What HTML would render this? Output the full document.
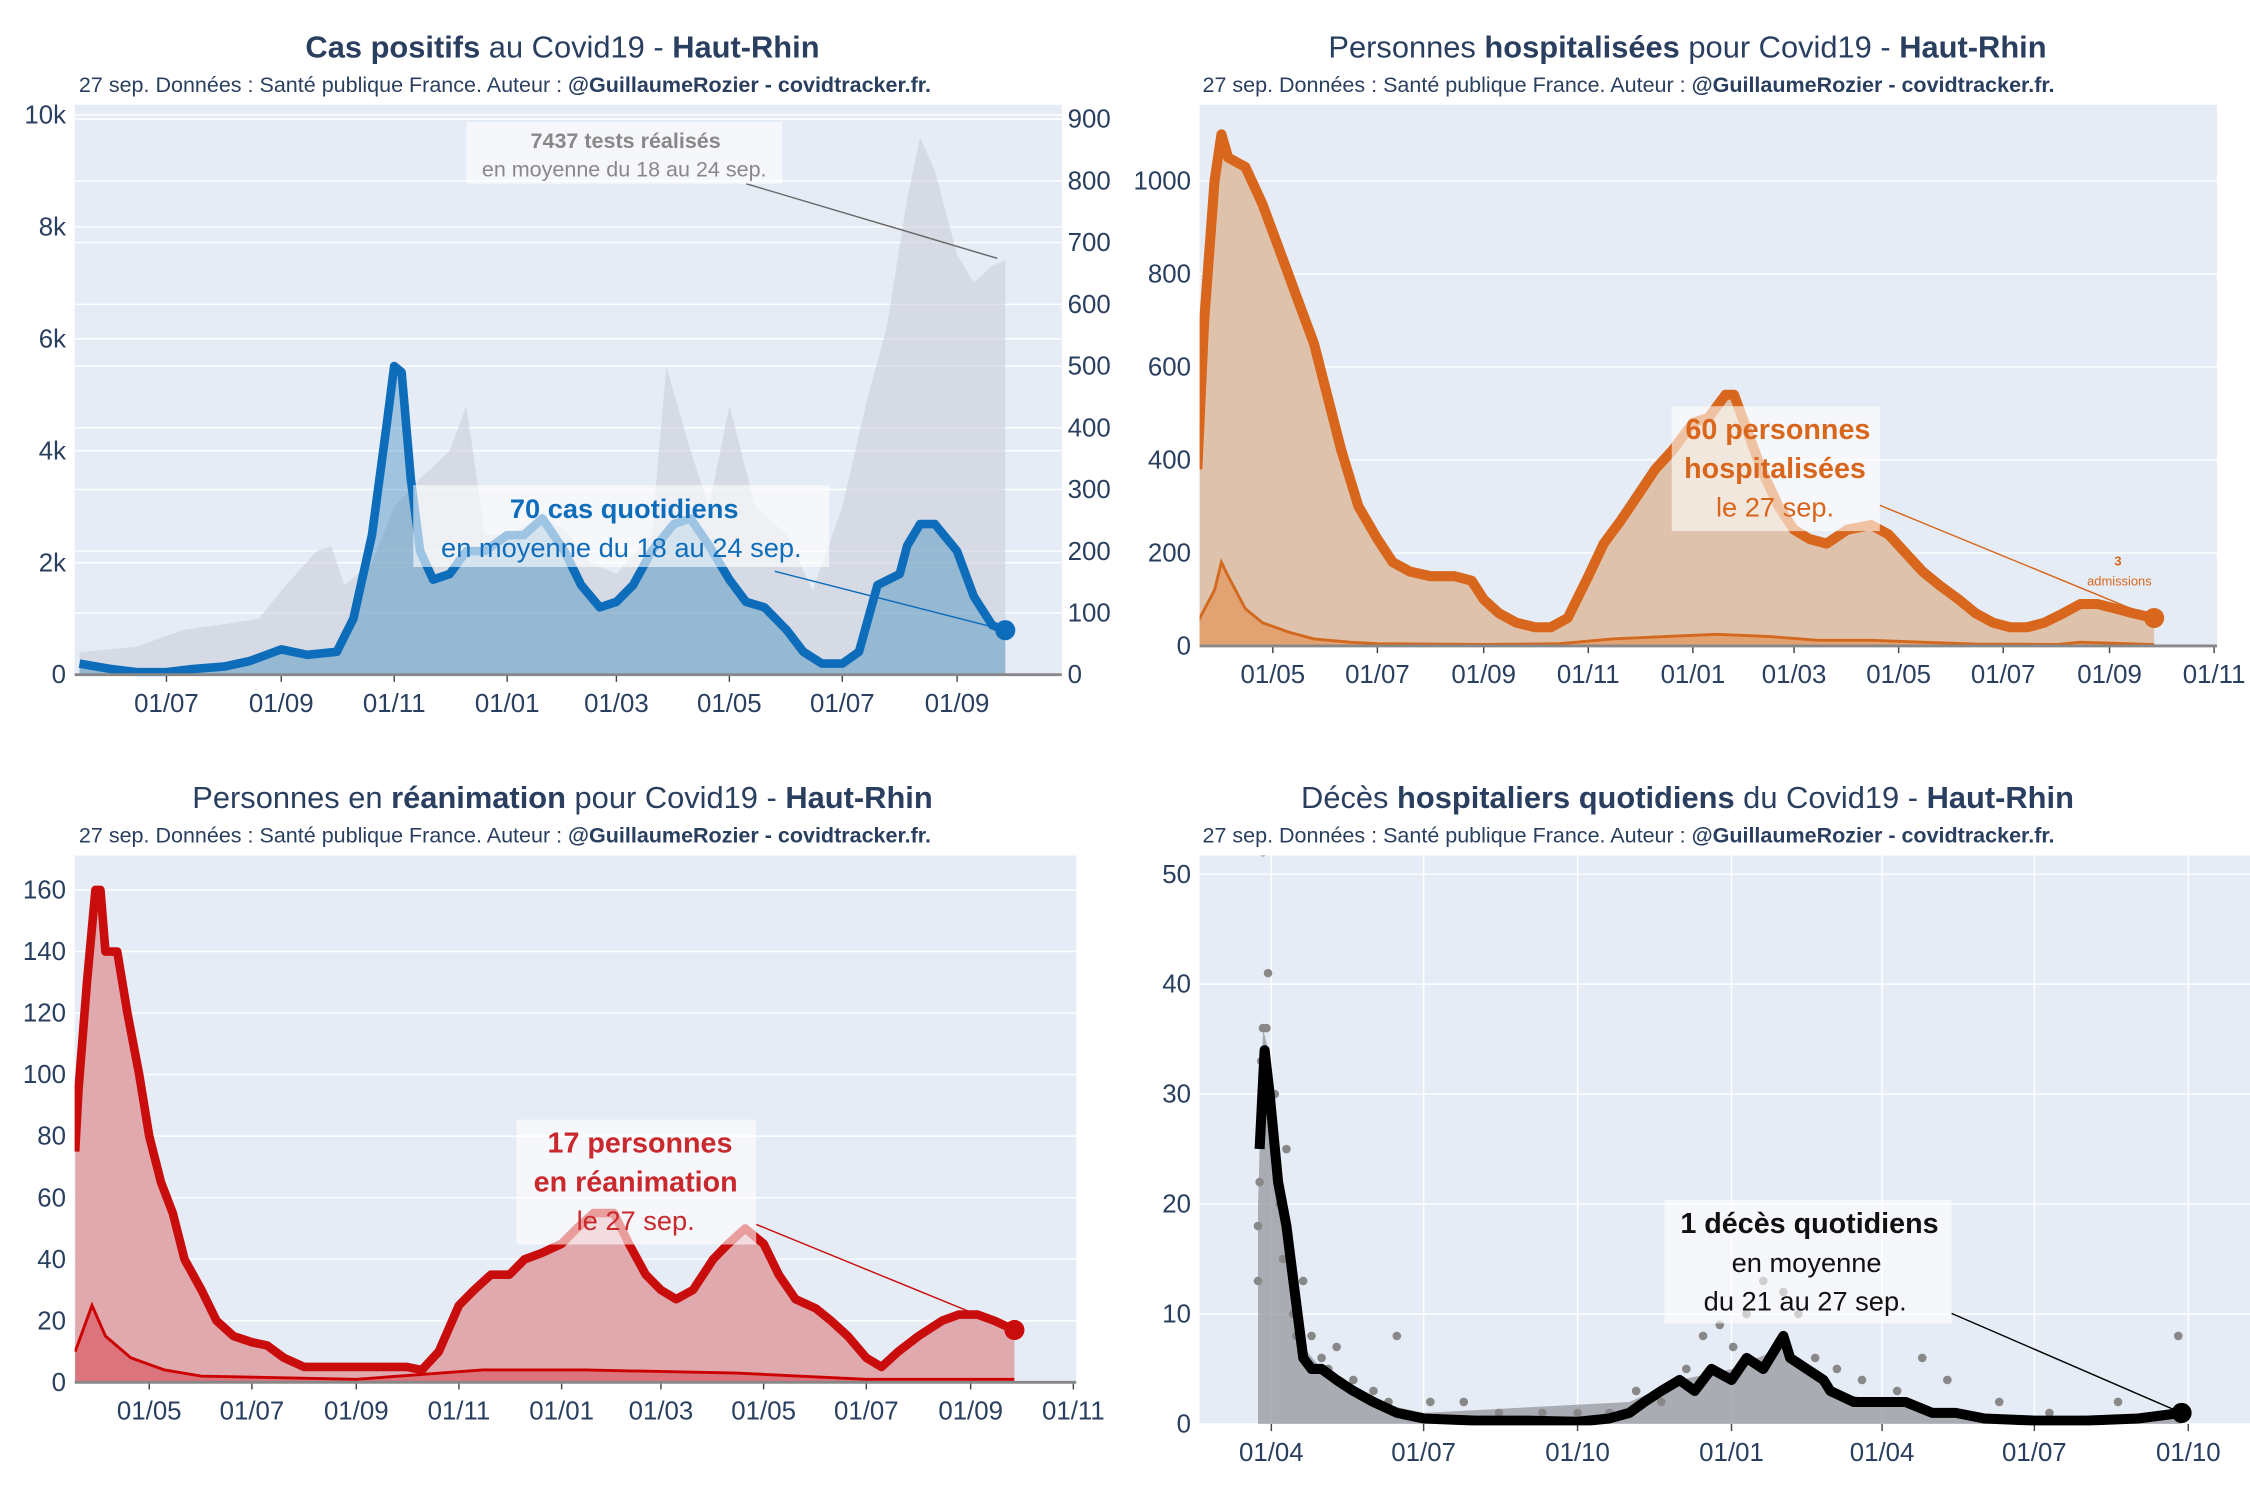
<!DOCTYPE html>
<html><head><meta charset="utf-8">
<style>
html,body{margin:0;padding:0;background:#fff;}
svg{display:block;font-family:"Liberation Sans",sans-serif;}
</style></head>
<body>
<svg id="chart" width="2250" height="1500" viewBox="0 0 1568 1045" preserveAspectRatio="none" xmlns="http://www.w3.org/2000/svg">
<defs>
<clipPath id="c1"><rect x="52" y="73" width="688" height="398"/></clipPath>
<clipPath id="c2"><rect x="836" y="73" width="709" height="378"/></clipPath>
<clipPath id="c3"><rect x="52" y="596" width="698" height="368"/></clipPath>
<clipPath id="c4"><rect x="836" y="596" width="732" height="397"/></clipPath>
</defs>
<g id="layer"></g>
</svg>
<script>
// ---------- Panel 1: cases (right axis) and tests (left axis) ----------
const casesDates=["2020-05-15","2020-06-01","2020-06-15","2020-07-01","2020-07-15","2020-08-01","2020-08-15","2020-09-01","2020-09-15","2020-10-01","2020-10-10","2020-10-20","2020-10-28","2020-11-01","2020-11-05","2020-11-10","2020-11-15","2020-11-22","2020-12-01","2020-12-10","2020-12-20","2021-01-01","2021-01-10","2021-01-20","2021-02-01","2021-02-10","2021-02-20","2021-03-01","2021-03-10","2021-03-20","2021-04-01","2021-04-10","2021-04-20","2021-05-01","2021-05-10","2021-05-20","2021-06-01","2021-06-10","2021-06-20","2021-07-01","2021-07-10","2021-07-20","2021-08-01","2021-08-05","2021-08-12","2021-08-20","2021-09-01","2021-09-10","2021-09-20","2021-09-27"];
const casesValues=[18,9,4,4,9,13,22,41,32,37,91,226,407,500,490,317,200,154,163,200,200,226,226,253,200,145,109,118,145,200,244,253,209,154,118,109,72,37,18,18,37,145,163,209,244,244,200,127,80,72];
const testsDates=["2020-05-15","2020-06-15","2020-07-10","2020-08-01","2020-08-20","2020-09-01","2020-09-20","2020-09-28","2020-10-05","2020-10-20","2020-11-01","2020-11-15","2020-12-01","2020-12-10","2020-12-20","2021-01-01","2021-01-20","2021-02-01","2021-02-15","2021-03-01","2021-03-20","2021-03-28","2021-04-10","2021-04-20","2021-05-01","2021-05-15","2021-06-01","2021-06-15","2021-07-01","2021-07-15","2021-07-25","2021-08-05","2021-08-12","2021-08-20","2021-09-01","2021-09-10","2021-09-20","2021-09-27"];
const testsValues=[400,500,800,900,1000,1500,2200,2300,1600,2000,3000,3500,4000,4800,2500,2500,2800,2600,2000,1800,2500,5500,4000,3000,4800,3000,2500,1500,3000,5000,6200,8500,9600,9000,7500,7000,7300,7400];
const p1LeftTicks=["0","2k","4k","6k","8k","10k"];
const p1RightTicks=["0","100","200","300","400","500","600","700","800","900"];
const p1XTicks=["2020-07-01","2020-09-01","2020-11-01","2021-01-01","2021-03-01","2021-05-01","2021-07-01","2021-09-01"];

// ---------- Panel 2: hospitalisations ----------
const hospDates=["2020-03-18","2020-03-22","2020-03-28","2020-04-01","2020-04-05","2020-04-15","2020-04-25","2020-05-05","2020-05-15","2020-05-25","2020-06-01","2020-06-10","2020-06-20","2020-07-01","2020-07-10","2020-07-20","2020-08-01","2020-08-15","2020-08-25","2020-09-01","2020-09-10","2020-09-20","2020-10-01","2020-10-10","2020-10-20","2020-11-01","2020-11-10","2020-11-20","2020-12-01","2020-12-10","2020-12-20","2021-01-01","2021-01-10","2021-01-20","2021-01-25","2021-02-01","2021-02-10","2021-02-20","2021-03-01","2021-03-10","2021-03-20","2021-04-01","2021-04-15","2021-04-25","2021-05-05","2021-05-15","2021-05-25","2021-06-05","2021-06-15","2021-06-25","2021-07-05","2021-07-15","2021-07-25","2021-08-05","2021-08-15","2021-08-25","2021-09-05","2021-09-15","2021-09-27"];
const hospValues=[380,700,1000,1100,1050,1030,950,850,750,650,550,420,300,230,180,160,150,150,140,100,70,50,40,40,60,150,220,270,330,380,420,480,490,540,540,470,380,300,250,230,220,250,260,240,200,160,130,100,70,50,40,40,50,70,90,90,80,70,60];
const hospAdmDates=["2020-03-18","2020-03-28","2020-04-01","2020-04-05","2020-04-15","2020-04-25","2020-05-10","2020-05-25","2020-06-15","2020-07-01","2020-09-01","2020-10-15","2020-11-15","2020-12-15","2021-01-15","2021-02-15","2021-03-15","2021-04-15","2021-05-15","2021-06-15","2021-08-01","2021-08-15","2021-09-27"];
const hospAdmValues=[50,120,180,150,80,50,30,15,8,5,3,5,15,20,25,20,12,12,8,4,3,8,3];
const p2YTicks=["0","200","400","600","800","1000"];
const p2XTicks=["2020-05-01","2020-07-01","2020-09-01","2020-11-01","2021-01-01","2021-03-01","2021-05-01","2021-07-01","2021-09-01","2021-11-01"];

// ---------- Panel 3: réanimation ----------
const reaDates=["2020-03-18","2020-03-20","2020-03-25","2020-03-30","2020-04-02","2020-04-05","2020-04-12","2020-04-18","2020-04-25","2020-05-01","2020-05-08","2020-05-15","2020-05-22","2020-06-01","2020-06-10","2020-06-20","2020-07-01","2020-07-10","2020-07-20","2020-08-01","2020-08-15","2020-09-01","2020-09-15","2020-10-01","2020-10-10","2020-10-20","2020-11-01","2020-11-10","2020-11-20","2020-12-01","2020-12-10","2020-12-20","2021-01-01","2021-01-10","2021-01-20","2021-02-01","2021-02-10","2021-02-20","2021-03-01","2021-03-10","2021-03-20","2021-04-01","2021-04-10","2021-04-20","2021-05-01","2021-05-10","2021-05-20","2021-06-01","2021-06-10","2021-06-20","2021-07-01","2021-07-10","2021-07-20","2021-08-01","2021-08-15","2021-08-25","2021-09-05","2021-09-15","2021-09-27"];
const reaValues=[75,95,130,160,160,140,140,120,100,80,65,55,40,30,20,15,13,12,8,5,5,5,5,5,4,10,25,30,35,35,40,42,45,50,55,55,45,35,30,27,30,40,45,50,45,35,27,24,20,15,8,5,10,15,20,22,22,20,17];
const reaAdmDates=["2020-03-18","2020-03-28","2020-04-05","2020-04-20","2020-05-10","2020-06-01","2020-09-01","2020-11-15","2021-01-15","2021-04-15","2021-07-01","2021-09-27"];
const reaAdmValues=[10,25,15,8,4,2,1,4,4,3,1,1];
const p3YTicks=["0","20","40","60","80","100","120","140","160"];
const p3XTicks=["2020-05-01","2020-07-01","2020-09-01","2020-11-01","2021-01-01","2021-03-01","2021-05-01","2021-07-01","2021-09-01","2021-11-01"];

// ---------- Panel 4: décès ----------
const decDates=["2020-03-25","2020-03-28","2020-03-31","2020-04-05","2020-04-10","2020-04-15","2020-04-20","2020-04-25","2020-05-01","2020-05-10","2020-05-20","2020-06-01","2020-06-15","2020-07-01","2020-08-01","2020-09-01","2020-10-01","2020-10-20","2020-11-01","2020-11-10","2020-11-20","2020-12-01","2020-12-10","2020-12-20","2021-01-01","2021-01-10","2021-01-20","2021-02-01","2021-02-05","2021-02-15","2021-02-25","2021-03-01","2021-03-15","2021-04-01","2021-04-15","2021-05-01","2021-05-15","2021-06-01","2021-07-01","2021-08-01","2021-09-01","2021-09-27"];
const decValues=[25,34,30,22,18,12,6,5,5,4,3,2,1,0.5,0.3,0.3,0.2,0.5,1,2,3,4,3,5,4,6,5,8,6,5,4,3,2,2,2,1,1,0.5,0.3,0.3,0.5,1];
const decBarDates=["2020-03-24","2020-03-27","2020-03-30","2020-04-03","2020-04-08","2020-04-14","2020-04-20","2020-05-01","2020-05-15","2020-06-01","2020-07-01","2020-11-01","2020-12-01","2021-01-01","2021-02-01","2021-03-01","2021-04-01","2021-05-01","2021-06-01","2021-09-27"];
const decBarValues=[20,36,34,28,20,12,7,5,3,2,1,2,4,5,7,3,2,1,0.5,1];
const decDotDates=["2020-03-27","2020-03-30","2020-03-27","2020-03-29","2020-03-26","2020-03-25","2020-03-24","2020-03-24","2020-04-03","2020-04-06","2020-04-08","2020-04-10","2020-04-14","2020-04-16","2020-04-20","2020-04-25","2020-05-01","2020-05-05","2020-05-10","2020-05-20","2020-06-01","2020-06-10","2020-06-15","2020-07-05","2020-07-25","2020-08-15","2020-09-10","2020-10-01","2020-10-20","2020-11-05","2020-11-20","2020-12-05","2020-12-15","2020-12-25","2021-01-02","2021-01-10","2021-01-20","2021-02-01","2021-02-10","2021-02-20","2021-03-05","2021-03-20","2021-04-10","2021-04-25","2021-05-10","2021-06-10","2021-07-10","2021-08-20","2021-09-25"];
const decDotValues=[52,41,36,36,33,22,18,13,30,20,15,25,10,8,13,8,6,5,7,4,3,2,8,2,2,1,1,1,1,3,2,5,8,9,7,10,13,12,10,6,5,4,3,6,4,2,1,2,8];
const p4YTicks=["0","10","20","30","40","50"];
const p4XTicks=["2020-04-01","2020-07-01","2020-10-01","2021-01-01","2021-04-01","2021-07-01","2021-10-01"];

const NS="http://www.w3.org/2000/svg";
const layer=document.getElementById('layer');
function mk(tag,attrs,parent){const e=document.createElementNS(NS,tag);for(const k in attrs)e.setAttribute(k,attrs[k]);(parent||layer).appendChild(e);return e;}
function day(s){return Date.UTC(+s.slice(0,4),+s.slice(5,7)-1,+s.slice(8,10))/864e5;}
function xScale(d0,x0,d1,x1){const a=day(d0),b=day(d1);return s=>x0+(day(s)-a)*(x1-x0)/(b-a);}
function yScale(v0,y0,v1,y1){return v=>y0+(v-v0)*(y1-y0)/(v1-v0);}
function fmt(s){return s.slice(8,10)+"/"+s.slice(5,7);}
function tickVal(t){return t.endsWith("k")?parseFloat(t)*1000:parseFloat(t);}
function linePath(dates,vals,X,Y){return dates.map((d,i)=>(i?"L":"M")+X(d).toFixed(1)+","+Y(vals[i]).toFixed(1)).join("");}
function areaPath(dates,vals,X,Y,base){return linePath(dates,vals,X,Y)+"L"+X(dates[dates.length-1]).toFixed(1)+","+base+"L"+X(dates[0]).toFixed(1)+","+base+"Z";}
const TC="#2a3f5f";

function panel(o){
  const g=mk('g',{});
  
  
  const bg=mk('rect',{x:o.x0,y:o.y0,width:o.x1-o.x0,height:o.y1-o.y0,fill:'#e5ecf6'},g);
  
  
  if(o.vgrid){o.xt.forEach(d=>{const gl=mk('line',{x1:o.X(d),x2:o.X(d),y1:o.y0,y2:o.y1,stroke:'#fff','stroke-width':1},g);
    
    });}
  const grids=[[o.yt,o.Y,o.x0-6,'end']];
  if(o.yt2)grids.push([o.yt2,o.Y2,o.x1+4,'start']);
  grids.forEach(([ticks,Y,tx,anc])=>{ticks.forEach(t=>{const y=Y(tickVal(t));
    const gl=mk('line',{x1:o.x0,x2:o.x1,y1:y,y2:y,stroke:'#fff','stroke-width':1},g);
    
    
    const tl=mk('text',{x:tx,y:y+6,'text-anchor':anc,'font-size':18,fill:TC},g);tl.textContent=t;
    
    });});
  o.xt.forEach(d=>{const x=o.X(d);
    mk('line',{x1:x,x2:x,y1:o.y1,y2:o.y1+5,stroke:'#444','stroke-width':1},g);
    const tl=mk('text',{x:x,y:o.y1+26,'text-anchor':'middle','font-size':18,fill:TC},g);tl.textContent=fmt(d);
    
    });
  const t=mk('text',{x:o.tx,y:o.ty,'text-anchor':'middle','font-size':21.5,fill:TC},g);t.innerHTML=o.title;
  
  
  const st=mk('text',{x:o.sx,y:o.ty+24,'font-size':15,fill:TC},g);
  st.innerHTML='27 sep. Données : Santé publique France. Auteur : <tspan font-weight="bold">@GuillaumeRozier - covidtracker.fr.</tspan>';
  
  
  const inner=mk('g',{'clip-path':'url(#'+o.clip+')'},g);
  return {g,inner};
}
function box(g,x,y,w,h,name){const r=mk('rect',{x,y,width:w,height:h,fill:'rgba(255,255,255,0.6)'},g);
  
  }
function txt(g,x,y,s,size,color,bold,name){const t=mk('text',{x,y,'text-anchor':'middle','font-size':size,fill:color,'font-weight':bold?'bold':'normal'},g);t.textContent=s;
  
  return t;}

// Panel 1
{const X=xScale("2020-07-01",116,"2021-09-01",667),Y=yScale(0,470,10000,80),Y2=yScale(0,470,900,83);
 const P=panel({name:'cases-panel',x0:52,x1:740,y0:73,y1:470,X,Y,Y2,yt:p1LeftTicks,yt2:p1RightTicks,xt:p1XTicks,clip:'c1',tx:392,ty:40,sx:55,
  title:'<tspan font-weight="bold">Cas positifs</tspan> au Covid19 - <tspan font-weight="bold">Haut-Rhin</tspan>'});
 const ta=mk('path',{d:areaPath(testsDates,testsValues,X,Y,470),fill:'#c9ced8',opacity:0.6},P.inner);
 
 
 const ca=mk('path',{d:areaPath(casesDates,casesValues,X,Y2,470),fill:'#1f77b4',opacity:0.35},P.inner);
 
 
 const cl=mk('path',{d:linePath(casesDates,casesValues,X,Y2),fill:'none',stroke:'#0e6dba','stroke-width':6,'stroke-linejoin':'round'},P.inner);
 
 
 const last=casesDates.length-1;
 const dot=mk('circle',{cx:X(casesDates[last]),cy:Y2(casesValues[last]),r:7,fill:'#0e6dba'},P.g);
 
 
 mk('line',{x1:52,x2:740,y1:470,y2:470,stroke:'#888','stroke-width':2},P.g);
 mk('line',{x1:540,y1:398,x2:X(casesDates[last]),y2:Y2(casesValues[last]),stroke:'#0e6dba','stroke-width':1},P.g);
 box(P.g,288,338,290,57,'cases-annotation-box');
 txt(P.g,435,361,'70 cas quotidiens',19,'#0e6dba',true,'cases-annotation-title');
 txt(P.g,433,388,'en moyenne du 18 au 24 sep.',19,'#0e6dba',false,'cases-annotation-text');
 mk('line',{x1:520,y1:128,x2:695,y2:180,stroke:'#666','stroke-width':1},P.g);
 box(P.g,325,85,220,43,'tests-annotation-box');
 txt(P.g,436,103,'7437 tests réalisés',15,'#888',true,'tests-annotation-title');
 txt(P.g,435,123,'en moyenne du 18 au 24 sep.',15,'#888',false,'tests-annotation-text');
}
// Panel 2
{const X=xScale("2020-05-01",887,"2021-11-01",1543),Y=yScale(0,450,1000,126);
 const P=panel({name:'hospitalisations-panel',x0:836,x1:1545,y0:73,y1:450,X,Y,yt:p2YTicks,xt:p2XTicks,clip:'c2',tx:1176,ty:40,sx:838,
  title:'Personnes <tspan font-weight="bold">hospitalisées</tspan> pour Covid19 - <tspan font-weight="bold">Haut-Rhin</tspan>'});
 const a=mk('path',{d:areaPath(hospDates,hospValues,X,Y,450),fill:'#dfc2ab'},P.inner);
 
 
 const aa=mk('path',{d:areaPath(hospAdmDates,hospAdmValues,X,Y,450),fill:'#e58c4d',opacity:0.6},P.inner);
 
 
 const al=mk('path',{d:linePath(hospAdmDates,hospAdmValues,X,Y),fill:'none',stroke:'#d2691e','stroke-width':2},P.inner);
 
 
 const l=mk('path',{d:linePath(hospDates,hospValues,X,Y),fill:'none',stroke:'#d8661c','stroke-width':7,'stroke-linejoin':'round'},P.inner);
 
 
 const last=hospDates.length-1;
 const dot=mk('circle',{cx:X(hospDates[last]),cy:Y(hospValues[last]),r:7,fill:'#d8661c'},P.g);
 
 
 mk('line',{x1:836,x2:1545,y1:450,y2:450,stroke:'#888','stroke-width':2},P.g);
 mk('line',{x1:1310,y1:352,x2:X(hospDates[last]),y2:Y(hospValues[last]),stroke:'#d8661c','stroke-width':1},P.g);
 box(P.g,1165,283,145,87,'hospitalisations-annotation-box');
 txt(P.g,1239,306,'60 personnes',20,'#d8661c',true,'hospitalisations-annotation-title');
 txt(P.g,1237,333,'hospitalisées',20,'#d8661c',true,'hospitalisations-annotation-title-2');
 txt(P.g,1237,360,'le 27 sep.',19,'#d8661c',false,'hospitalisations-annotation-date');
 txt(P.g,1476,394,'3',9,'#d8661c',true,'admissions-annotation-value');
 txt(P.g,1477,408,'admissions',9,'#d8661c',false,'admissions-annotation-label');
}
// Panel 3
{const X=xScale("2020-05-01",104,"2021-11-01",748),Y=yScale(0,963,160,620);
 const P=panel({name:'reanimation-panel',x0:52,x1:750,y0:596,y1:963,X,Y,yt:p3YTicks,xt:p3XTicks,clip:'c3',tx:392,ty:563,sx:55,
  title:'Personnes en <tspan font-weight="bold">réanimation</tspan> pour Covid19 - <tspan font-weight="bold">Haut-Rhin</tspan>'});
 const a=mk('path',{d:areaPath(reaDates,reaValues,X,Y,963),fill:'#dfa9ae'},P.inner);
 
 
 const aa=mk('path',{d:areaPath(reaAdmDates,reaAdmValues,X,Y,963),fill:'#d8404a',opacity:0.5},P.inner);
 
 
 const al=mk('path',{d:linePath(reaAdmDates,reaAdmValues,X,Y),fill:'none',stroke:'#c00','stroke-width':2},P.inner);
 
 
 const l=mk('path',{d:linePath(reaDates,reaValues,X,Y),fill:'none',stroke:'#c90c0c','stroke-width':6,'stroke-linejoin':'round'},P.inner);
 
 
 const last=reaDates.length-1;
 const dot=mk('circle',{cx:X(reaDates[last]),cy:Y(reaValues[last]),r:7,fill:'#c90c0c'},P.g);
 
 
 mk('line',{x1:52,x2:750,y1:963,y2:963,stroke:'#888','stroke-width':2},P.g);
 mk('line',{x1:527,y1:853,x2:X(reaDates[last]),y2:Y(reaValues[last]),stroke:'#c90c0c','stroke-width':1},P.g);
 box(P.g,360,780,167,87,'reanimation-annotation-box');
 txt(P.g,446,803,'17 personnes',20,'#c9282d',true,'reanimation-annotation-title');
 txt(P.g,443,830,'en réanimation',20,'#c9282d',true,'reanimation-annotation-title-2');
 txt(P.g,443,857,'le 27 sep.',19,'#c9282d',false,'reanimation-annotation-date');
}
// Panel 4
{const X=xScale("2020-04-01",886,"2021-10-01",1525),Y=yScale(0,992,50,609);
 const P=panel({name:'deces-panel',x0:836,x1:1568,y0:596,y1:992,X,Y,yt:p4YTicks,xt:p4XTicks,clip:'c4',vgrid:true,tx:1176,ty:563,sx:838,
  title:'Décès <tspan font-weight="bold">hospitaliers quotidiens</tspan> du Covid19 - <tspan font-weight="bold">Haut-Rhin</tspan>'});
 const b=mk('path',{d:areaPath(decBarDates,decBarValues,X,Y,992),fill:'#9a9da3',opacity:0.8},P.inner);
 
 
 decDotDates.forEach((d,i)=>{const c=mk('circle',{cx:X(d),cy:Y(decDotValues[i]),r:3,fill:'#888'},P.inner);
  
  });
 const l=mk('path',{d:linePath(decDates,decValues,X,Y),fill:'none',stroke:'#000','stroke-width':7,'stroke-linejoin':'round'},P.inner);
 
 
 const last=decDates.length-1;
 const dot=mk('circle',{cx:X(decDates[last]),cy:Y(decValues[last]),r:7,fill:'#000'},P.g);
 
 
 mk('line',{x1:1360,y1:915,x2:X(decDates[last]),y2:Y(decValues[last]),stroke:'#000','stroke-width':1},P.g);
 box(P.g,1160,836,200,86,'deces-annotation-box');
 txt(P.g,1261,859,'1 décès quotidiens',20,'#111',true,'deces-annotation-title');
 txt(P.g,1259,886,'en moyenne',19,'#111',false,'deces-annotation-text');
 txt(P.g,1258,913,'du 21 au 27 sep.',19,'#111',false,'deces-annotation-dates');
}
</script>
</body></html>
